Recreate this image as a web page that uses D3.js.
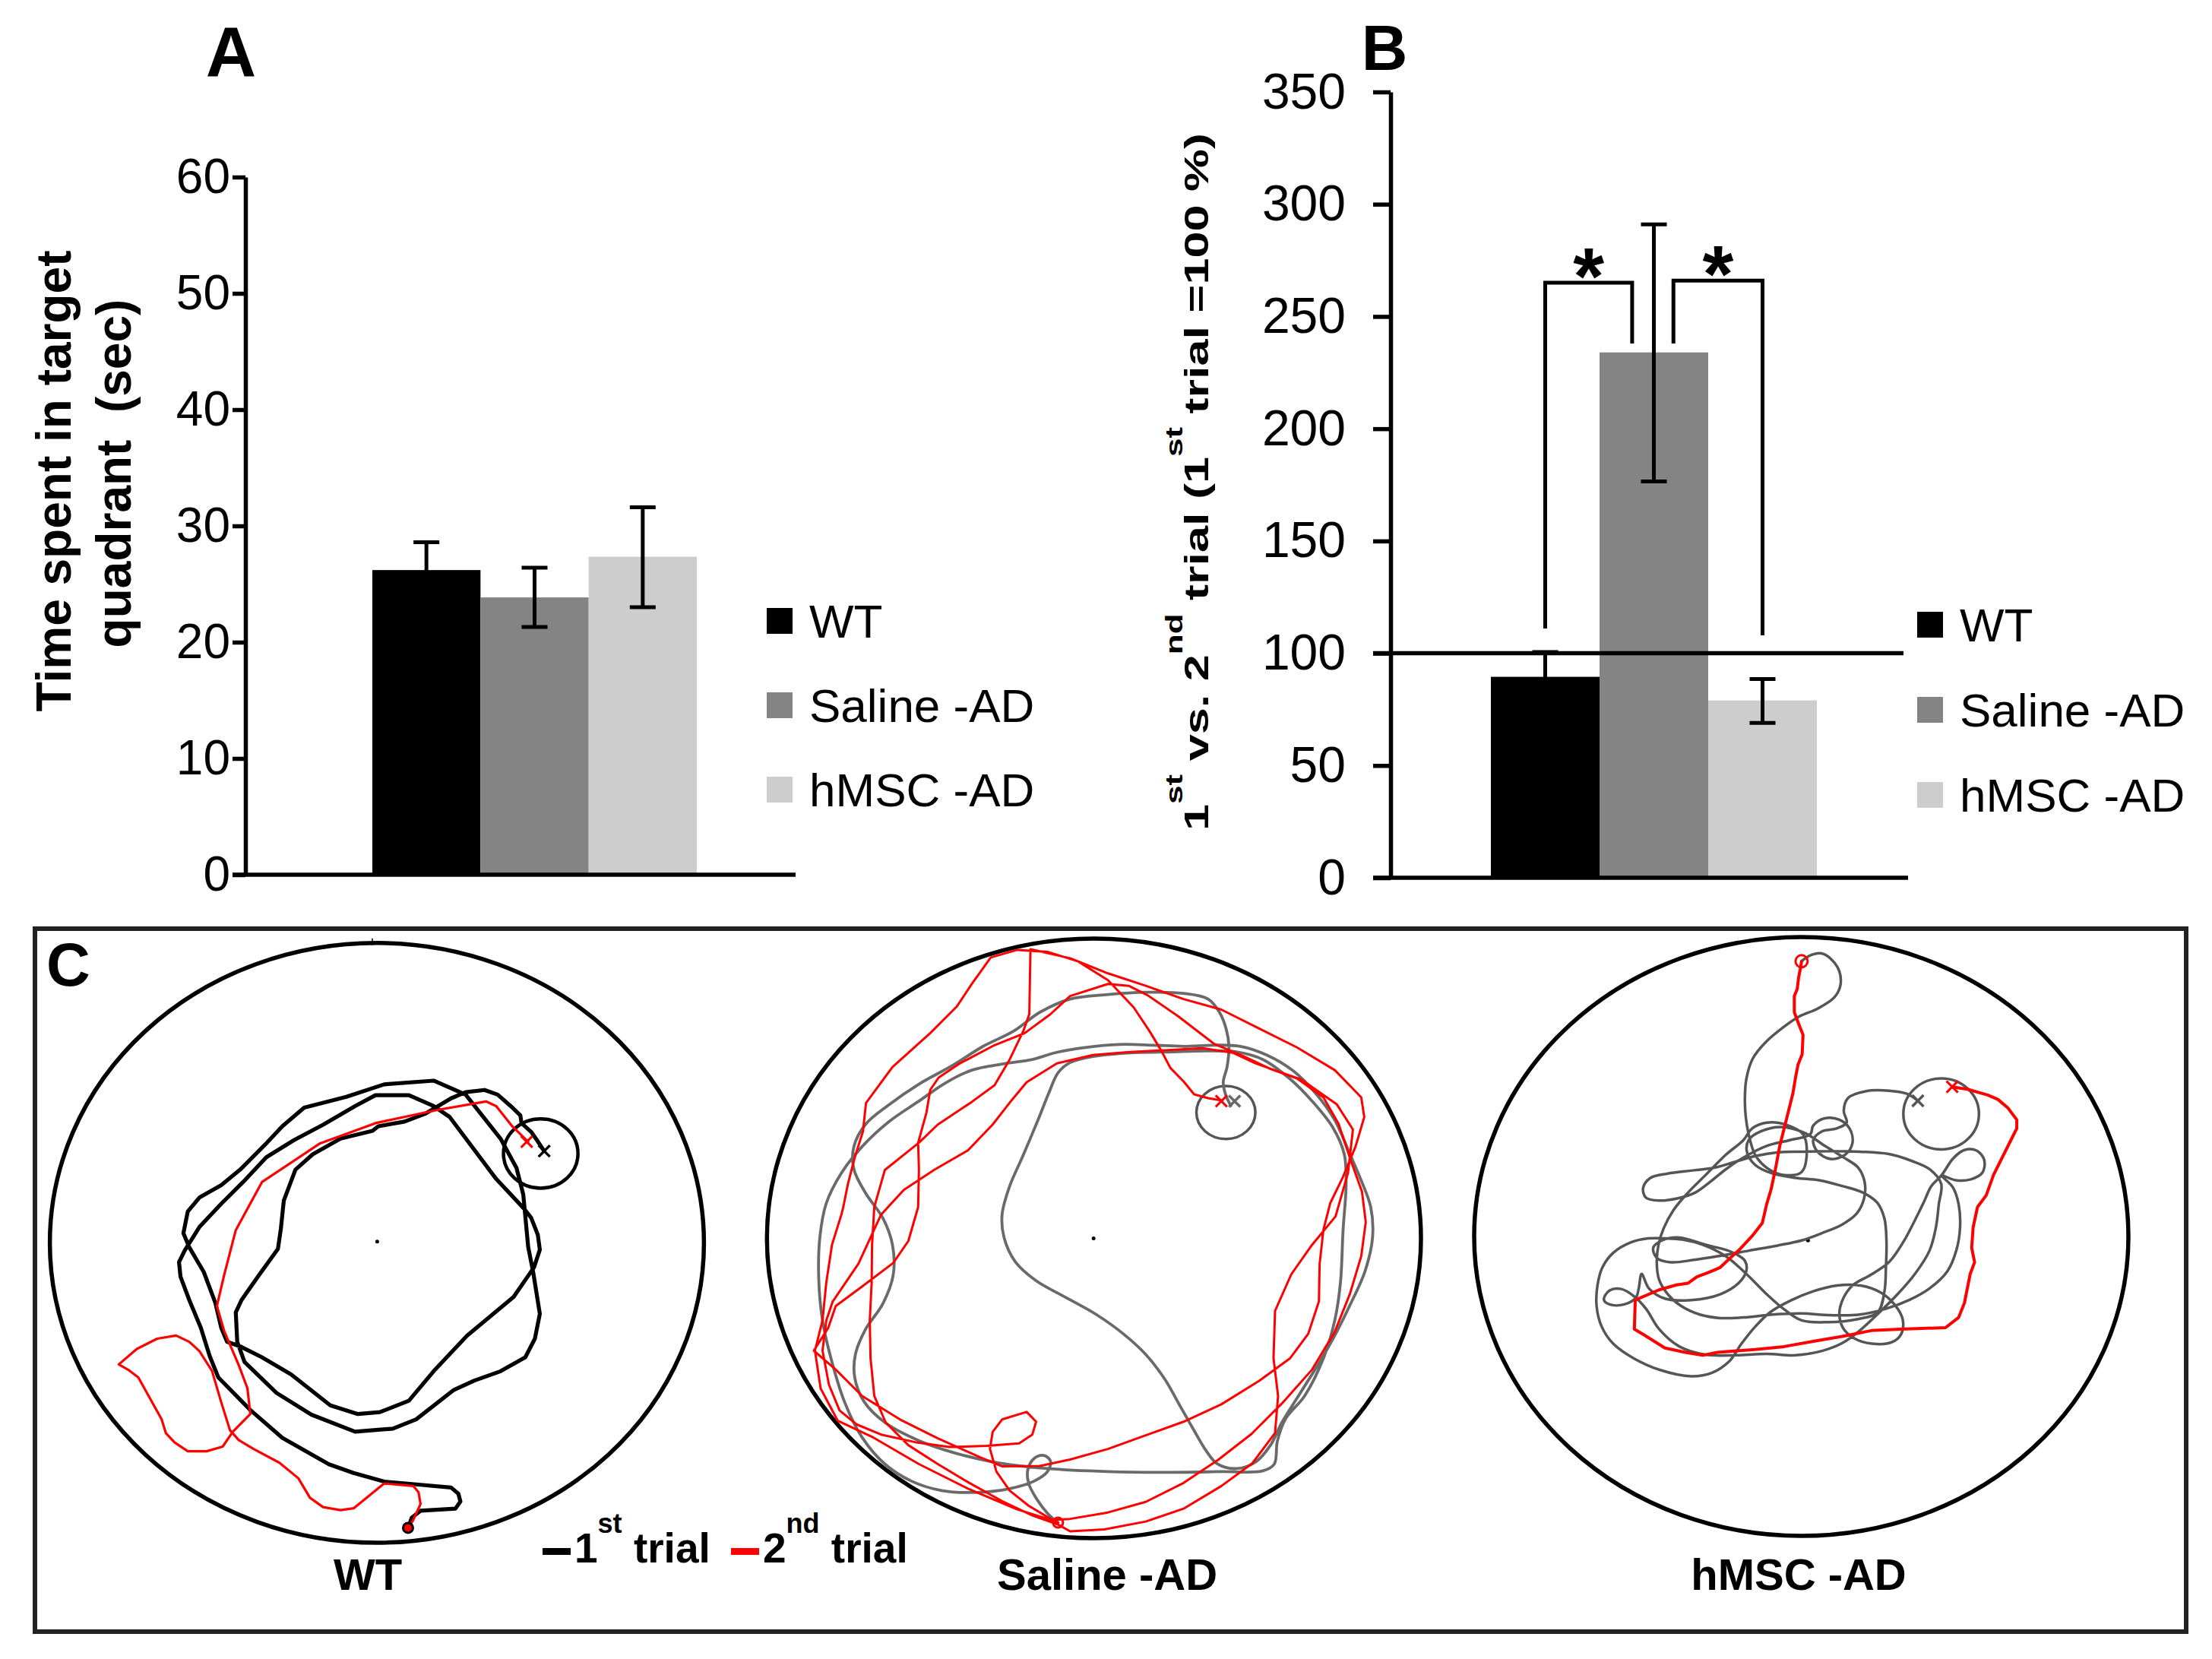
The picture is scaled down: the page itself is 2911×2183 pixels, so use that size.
<!DOCTYPE html>
<html><head><meta charset="utf-8">
<script src="https://cdn.jsdelivr.net/npm/d3@7"></script>
<style>
body{margin:0;background:#fff}
text{font-family:"Liberation Sans",Arial,Helvetica,sans-serif}
</style>
</head><body>
<svg id="c" width="2911" height="2183" xmlns="http://www.w3.org/2000/svg"></svg>
<script>
// ---------------- DATA ----------------
const groups = ["WT", "Saline -AD", "hMSC -AD"];
const groupColors = ["#000000", "#848484", "#cdcdcd"];

// Panel A: time spent in target quadrant (sec)
const timeMeans = [26.2, 23.85, 27.35];
const timeLower = [23.8, 21.3, 23.0];
const timeUpper = [28.6, 26.4, 31.6];
const timeTicks = [0, 10, 20, 30, 40, 50, 60];

// Panel B: 2nd trial relative to 1st trial (%)
const ratioMeans = [89.5, 234, 79];
const ratioLower = [78.5, 176.5, 69];
const ratioUpper = [100.5, 291, 88.5];
const ratioTicks = [0, 50, 100, 150, 200, 250, 300, 350];
const ratioReference = 100;
// significance brackets: [fromGroup, toGroup, fromOffset(band frac), toOffset, yFrom, yTop, yTo]
const sigBrackets = [[0, 1, 0, -0.2, 111, 265, 238], [1, 2, 0.18, 0, 238, 266, 108]];
const sigLabels = ["*", "*"];

// Panel C: swim tracks, in each arena's tracker coordinates
const arenaNames = ["WT", "Saline -AD", "hMSC -AD"];
const trackerX = [[-299, 1949], [-102, 1628], [-366, 1884]];
const trackerY = [[-341, 1593], [-10, 1576], [-18, 2041]];
const poolCenters = [[826, 622], [762, 783], [782, 1025]];
const platforms = [[1388, 338, 128, 112], [1112, 450, 78, 70], [1240, 590, 130, 122]];
const trialStarts = [[932, 1545], [668, 1535], [760, 65]];
const trial1Ends = [[1400, 330], [1135, 420], [1160, 545]];
const trial2Ends = [[1340, 300], [1100, 420], [1278, 497]];

const wtTrial1 = [[932,1545],[945,1512],[975,1490],[1095,1483],[1112,1460],[1105,1435],[1080,1415],[960,1405],[850,1396],[745,1368],[660,1340],[500,1255],[390,1165],[280,1060],[250,990],[220,900],[180,810],[150,735],[145,688],[165,650],[215,575],[290,500],[365,430],[445,350],[540,295],[640,245],[750,185],[820,150],[935,150],[1020,185],[1075,220],[1235,420],[1330,515],[1355,545],[1378,600],[1385,648],[1365,705],[1295,800],[1135,925],[1020,1040],[935,1135],[835,1172],[760,1178],[665,1150],[530,1050],[430,995],[355,960],[310,945],[290,900],[270,820],[230,720],[180,640],[160,595],[175,525],[215,480],[290,440],[355,390],[440,310],[500,250],[575,190],[720,155],[850,115],[1020,103],[1130,148],[1250,290],[1305,385],[1328,470],[1345,640],[1362,720],[1385,855],[1368,935],[1335,995],[1250,1040],[1160,1070],[1090,1100],[960,1195],[880,1225],[750,1235],[600,1180],[480,1110],[370,1010],[345,945],[340,850],[360,810],[420,730],[485,645],[495,580],[505,490],[545,390],[605,340],[700,290],[810,265],[830,250],[920,235],[990,210],[1080,160],[1130,140],[1195,133],[1240,148],[1285,185],[1318,215],[1322,240],[1355,268],[1375,295],[1400,330]];
const wtTrial2 = [[932,1545],[950,1520],[975,1468],[968,1430],[950,1410],[850,1402],[745,1482],[700,1488],[640,1478],[595,1448],[555,1385],[490,1335],[400,1290],[350,1262],[320,1230],[290,1140],[258,1038],[215,975],[180,945],[135,925],[70,935],[0,968],[-62,1018],[-30,1035],[5,1060],[20,1085],[85,1195],[100,1240],[130,1270],[175,1298],[240,1298],[295,1283],[330,1235],[390,1178],[380,1095],[350,1020],[300,910],[275,830],[300,730],[340,585],[430,430],[630,305],[820,240],[1030,198],[1200,170],[1235,185],[1290,250],[1345,300]];

const salTrial1 = [[668,1535],[640,1510],[610,1470],[590,1430],[588,1395],[605,1365],[630,1357],[648,1372],[640,1400],[605,1425],[540,1445],[450,1455],[360,1450],[280,1425],[210,1380],[150,1310],[105,1220],[70,1110],[45,1000],[35,890],[38,780],[55,690],[95,610],[150,540],[220,475],[300,420],[370,372],[440,338],[520,322],[600,310],[660,292],[740,278],[830,270],[920,272],[1000,275],[1080,272],[1150,275],[1220,298],[1290,340],[1350,400],[1400,470],[1440,560],[1470,630],[1495,700],[1500,780],[1480,870],[1440,960],[1400,1040],[1360,1110],[1310,1190],[1260,1270],[1230,1330],[1190,1375],[1140,1392],[1090,1380],[1060,1345],[1030,1295],[990,1225],[950,1155],[900,1090],[840,1035],[770,985],[690,940],[610,895],[555,845],[525,780],[520,720],[540,645],[575,565],[615,470],[645,395],[668,345],[700,318],[760,302],[860,292],[960,290],[1060,287],[1140,290],[1210,310],[1280,360],[1340,420],[1395,490],[1425,560],[1430,640],[1422,760],[1415,900],[1400,1000],[1370,1100],[1320,1200],[1270,1260],[1248,1320],[1240,1380],[1210,1398],[1100,1400],[950,1402],[800,1400],[640,1392],[500,1375],[400,1352],[300,1318],[210,1270],[155,1215],[130,1150],[132,1090],[158,1025],[205,955],[232,880],[230,800],[205,730],[160,665],[128,600],[128,540],[160,480],[220,430],[300,375],[390,325],[470,275],[550,235],[620,185],[700,150],[800,138],[900,132],[1000,135],[1065,150],[1095,185],[1113,230],[1120,275],[1115,330],[1105,370],[1112,405],[1125,432]];
const salTrial2 = [[668,1535],[640,1520],[590,1490],[540,1450],[505,1400],[488,1340],[495,1295],[520,1262],[585,1242],[610,1268],[600,1302],[565,1325],[480,1332],[380,1335],[290,1322],[200,1302],[135,1275],[90,1238],[62,1170],[45,1080],[55,1000],[72,950],[140,850],[200,720],[260,655],[340,602],[430,550],[495,482],[545,418],[585,370],[665,320],[760,298],[860,290],[960,285],[1050,280],[1130,292],[1190,320],[1260,345],[1310,362],[1405,428],[1448,495],[1435,610],[1402,725],[1340,800],[1285,878],[1242,975],[1238,1100],[1250,1200],[1242,1298],[1182,1378],[1100,1438],[1000,1498],[900,1532],[790,1553],[700,1558],[668,1540],[600,1516],[520,1478],[430,1428],[350,1380],[272,1330],[212,1270],[182,1200],[172,1100],[170,1000],[175,900],[176,800],[182,700],[210,602],[300,530],[350,482],[440,422],[500,378],[540,310],[576,235],[592,190],[595,18],[700,42],[800,82],[900,115],[1000,150],[1100,178],[1200,228],[1300,278],[1400,338],[1470,410],[1478,462],[1455,540],[1422,620],[1388,690],[1370,760],[1360,850],[1358,950],[1330,1035],[1282,1100],[1200,1160],[1100,1222],[1000,1268],[900,1304],[800,1340],[700,1368],[620,1385],[520,1386],[462,1362],[350,1312],[250,1262],[150,1200],[80,1130],[22,1080],[60,1020],[80,962],[150,910],[232,848],[272,790],[298,700],[300,600],[298,530],[320,450],[330,390],[352,358],[405,322],[500,272],[580,240],[648,190],[700,142],[800,110],[855,115],[905,140],[985,195],[1080,268],[1160,302],[1230,335],[1300,360],[1370,410],[1410,480],[1440,570],[1472,660],[1482,740],[1470,830],[1440,930],[1400,1030],[1340,1130],[1260,1220],[1180,1300],[1090,1370],[1000,1430],[900,1480],[800,1508],[700,1525],[650,1528],[560,1500],[430,1445],[300,1380],[180,1310],[85,1265],[40,1180],[25,1080],[45,1000],[55,900],[70,800],[95,720],[100,700],[112,640],[130,570],[152,500],[160,425],[230,330],[330,240],[400,170],[440,110],[490,40],[560,20],[640,25],[720,50],[800,100],[868,172],[910,235],[942,288],[965,332],[1000,368],[1028,402],[1065,412],[1100,418]];

const hmscTrial1 = [[760,65],[790,45],[828,38],[862,58],[890,100],[893,150],[872,190],[815,228],[752,255],[700,290],[635,345],[592,400],[570,470],[565,540],[568,600],[578,660],[600,730],[640,775],[700,800],[760,790],[778,720],[765,660],[715,630],[640,620],[590,640],[560,680],[500,730],[430,800],[370,860],[320,920],[285,985],[268,1040],[262,1100],[270,1160],[300,1210],[345,1250],[410,1280],[480,1292],[560,1290],[660,1280],[760,1276],[860,1282],[960,1280],[1050,1260],[1130,1230],[1200,1190],[1262,1130],[1292,1060],[1305,980],[1300,900],[1280,842],[1242,802],[1290,818],[1342,815],[1382,792],[1388,748],[1362,716],[1320,714],[1282,742],[1242,800],[1205,840],[1182,890],[1150,955],[1110,1030],[1062,1098],[1000,1142],[935,1180],[903,1225],[890,1275],[902,1325],[942,1362],[1002,1380],[1070,1375],[1102,1348],[1108,1298],[1082,1248],[1032,1204],[962,1180],[882,1180],[800,1200],[722,1232],[652,1272],[600,1322],[552,1382],[512,1440],[452,1480],[380,1492],[272,1470],[182,1430],[112,1380],[72,1320],[55,1250],[58,1180],[75,1118],[112,1068],[172,1032],[232,1018],[290,1018],[350,1022],[420,1040],[500,1080],[570,1140],[640,1210],[700,1262],[760,1300],[850,1306],[950,1296],[1022,1272],[1045,1200],[1050,1120],[1052,1030],[1045,950],[1020,895],[970,860],[900,838],[820,818],[740,810],[660,795],[600,765],[572,720],[578,680],[620,650],[690,635],[770,655],[840,700],[905,740],[955,775],[977,825],[975,880],[950,932],[900,970],[830,1000],[760,1025],[680,1042],[580,1060],[480,1078],[390,1092],[310,1100],[262,1085],[250,1050],[280,1025],[340,1015],[430,1040],[520,1065],[565,1095],[570,1130],[545,1170],[480,1210],[380,1230],[290,1225],[235,1190],[210,1140],[200,1190],[190,1222],[150,1245],[100,1245],[80,1228],[100,1197],[140,1192],[185,1218],[225,1260],[270,1330],[340,1390],[430,1418],[530,1420],[640,1415],[740,1420],[830,1405],[900,1378],[960,1335],[1020,1280],[1090,1210],[1150,1140],[1200,1060],[1222,980],[1232,900],[1240,830],[1200,780],[1140,752],[1060,728],[960,720],[860,718],[760,720],[680,722],[600,735],[530,755],[460,775],[380,785],[300,795],[240,810],[215,845],[225,878],[270,888],[335,880],[395,860],[450,820],[500,780],[560,740],[640,700],[720,680],[790,660],[800,630],[840,605],[890,610],[925,640],[935,690],[910,730],[860,745],[815,720],[800,680],[830,650],[880,640],[915,620],[905,580],[920,535],[980,512],[1060,510],[1120,520],[1160,545]];
const hmscTrial2 = [[760,65],[757,85],[750,120],[745,160],[735,185],[735,240],[748,275],[765,318],[762,385],[748,420],[740,460],[730,520],[715,580],[700,640],[685,700],[670,780],[655,850],[640,900],[625,965],[590,1010],[545,1058],[510,1090],[480,1118],[440,1135],[400,1150],[370,1172],[330,1178],[270,1195],[188,1230],[185,1330],[215,1348],[290,1395],[360,1410],[420,1420],[470,1410],[600,1400],[700,1390],[800,1372],[900,1355],[1000,1335],[1100,1330],[1255,1325],[1300,1290],[1320,1240],[1340,1140],[1355,1100],[1345,1050],[1350,980],[1365,910],[1395,870],[1420,800],[1460,720],[1500,640],[1500,610],[1470,570],[1435,540],[1400,525],[1330,505],[1278,497]];

const trials1 = [wtTrial1, salTrial1, hmscTrial1];
const trials2 = [wtTrial2, salTrial2, hmscTrial2];

// ---------------- DRAWING ----------------
const svg = d3.select("#c");
svg.append("rect").attr("width", 2911).attr("height", 2183).attr("fill", "#fff");
const FONT = '"Liberation Sans", Arial, Helvetica, sans-serif';
const AXW = 5.5;

function styleAxis(g, fs) {
  g.attr("font-family", FONT).attr("font-size", fs);
  g.selectAll("path.domain").attr("stroke", "#000").attr("stroke-width", AXW);
  g.selectAll(".tick line").attr("stroke", "#000").attr("stroke-width", AXW);
  g.selectAll(".tick text").attr("fill", "#000");
}

function barPanel(cfg) {
  const g = svg.append("g");
  const x = d3.scaleBand().domain(groups).range(cfg.xRange).paddingInner(0);
  const y = d3.scaleLinear().domain(cfg.domain).range(cfg.yRange);
  const bw = x.bandwidth();
  g.selectAll("rect.bar").data(groups).join("rect").attr("class", "bar")
    .attr("x", d => x(d)).attr("width", bw)
    .attr("y", (d, i) => y(cfg.means[i]))
    .attr("height", (d, i) => y(0) - y(cfg.means[i]))
    .attr("fill", (d, i) => groupColors[i]);
  groups.forEach((gname, i) => {
    const cx = x(gname) + bw / 2;
    g.append("line").attr("x1", cx).attr("x2", cx)
      .attr("y1", y(cfg.lower[i])).attr("y2", y(cfg.upper[i]))
      .attr("stroke", "#000").attr("stroke-width", 5);
    [cfg.lower[i], cfg.upper[i]].forEach(v => {
      g.append("line").attr("x1", cx - 17).attr("x2", cx + 17)
        .attr("y1", y(v)).attr("y2", y(v))
        .attr("stroke", "#000").attr("stroke-width", 5);
    });
  });
  const ax = d3.axisLeft(y).tickValues(cfg.ticks).tickSize(cfg.tickSize)
    .tickSizeOuter(0).tickPadding(cfg.tickPad);
  const ag = g.append("g").attr("transform", `translate(${cfg.axisX},0)`).call(ax);
  styleAxis(ag, cfg.tickFont);
  g.append("line").attr("x1", cfg.axisX - cfg.tickSize).attr("x2", cfg.xAxisEnd)
    .attr("y1", y(0)).attr("y2", y(0)).attr("stroke", "#000").attr("stroke-width", AXW);
  groups.forEach((gname, i) => {
    const cy = cfg.legendY + i * cfg.legendStep;
    g.append("rect").attr("x", cfg.legendX).attr("y", cy - 17).attr("width", 34).attr("height", 34)
      .attr("fill", groupColors[i]);
    g.append("text").attr("x", cfg.legendX + 56).attr("y", cy).attr("dy", "0.36em")
      .attr("font-size", 62).attr("fill", "#000").text(gname);
  });
  return {g, x, y};
}

// Panel A
const pA = barPanel({xRange: [490, 917], domain: [0, 60], yRange: [1151, 233],
  means: timeMeans, lower: timeLower, upper: timeUpper, ticks: timeTicks,
  tickSize: 17, tickPad: 3, tickFont: 64, axisX: 323, xAxisEnd: 1047,
  legendX: 1009, legendY: 817, legendStep: 111});
svg.append("text").attr("x", 304).attr("y", 100).attr("text-anchor", "middle")
  .attr("font-size", 92).attr("font-weight", "bold").text("A");
svg.append("text").attr("transform", "translate(93,633) rotate(-90)")
  .attr("text-anchor", "middle").attr("font-size", 64).attr("font-weight", "bold")
  .style("white-space", "pre").text("Time spent in target");
svg.append("text").attr("transform", "translate(172,623) rotate(-90)")
  .attr("text-anchor", "middle").attr("font-size", 64).attr("font-weight", "bold")
  .style("white-space", "pre").text("quadrant  (sec)");

// Panel B
const pB = barPanel({xRange: [1962, 2391], domain: [0, 350], yRange: [1155, 121],
  means: ratioMeans, lower: ratioLower, upper: ratioUpper, ticks: ratioTicks,
  tickSize: 23, tickPad: 36, tickFont: 66, axisX: 1830, xAxisEnd: 2511,
  legendX: 2523, legendY: 822, legendStep: 112});
pB.g.append("line").attr("x1", 1807).attr("x2", 2505)
  .attr("y1", pB.y(ratioReference)).attr("y2", pB.y(ratioReference))
  .attr("stroke", "#000").attr("stroke-width", AXW);
sigBrackets.forEach((b, i) => {
  const bw = pB.x.bandwidth();
  const x1 = pB.x(groups[b[0]]) + bw / 2 + b[2] * bw;
  const x2 = pB.x(groups[b[1]]) + bw / 2 + b[3] * bw;
  pB.g.append("path")
    .attr("d", `M${x1},${pB.y(b[4])}V${pB.y(b[5])}H${x2}V${pB.y(b[6])}`)
    .attr("fill", "none").attr("stroke", "#000").attr("stroke-width", 5);
  pB.g.append("text").attr("x", (x1 + x2) / 2).attr("y", pB.y(b[5]) + 28)
    .attr("text-anchor", "middle").attr("font-size", 105).attr("font-weight", "bold")
    .text(sigLabels[i]);
});
svg.append("text").attr("x", 1822).attr("y", 92).attr("text-anchor", "middle")
  .attr("font-size", 84).attr("font-weight", "bold").text("B");
{
  const t = svg.append("text").attr("transform", "translate(1590,634) rotate(-90) scale(1,0.7)")
    .attr("text-anchor", "middle").attr("font-size", 63).attr("font-weight", "bold")
    .style("white-space", "pre");
  const parts = [["1", 0], ["st", 1], [" vs. 2", 0], ["nd", 1], [" trial (1", 0], ["st", 1], [" trial =100 %)", 0]];
  let up = false;
  parts.forEach(([s, sup]) => {
    const ts = t.append("tspan").text(s);
    if (sup) { ts.attr("font-size", 44).attr("dy", up ? 0 : -48); up = true; }
    else { ts.attr("dy", up ? 48 : 0); up = false; }
  });
}

// Panel C
svg.append("rect").attr("x", 46).attr("y", 1222).attr("width", 2831).attr("height", 925)
  .attr("fill", "none").attr("stroke", "#222").attr("stroke-width", 6);
svg.append("text").attr("x", 61).attr("y", 1297).attr("font-size", 80)
  .attr("font-weight", "bold").text("C");

const arenaBox = [
  {x: [65.6, 926.4], y: [1240.8, 2030], labelX: 484},
  {x: [1009.3, 1870], y: [1235, 2024], labelX: 1457},
  {x: [1940, 2801], y: [1233.1, 2021], labelX: 2367}
];
const trial1Colors = ["#000000", "#6a6a6a", "#555555"];
const trial1Widths = [5.2, 3.8, 3.5];
const trial2Widths = [3.2, 3, 4];

function drawCross(g, px, py, col, w) {
  const s = 7.5;
  g.append("path").attr("d", `M${px - s},${py - s}L${px + s},${py + s}M${px - s},${py + s}L${px + s},${py - s}`)
    .attr("stroke", col).attr("stroke-width", w).attr("fill", "none");
}

arenaNames.forEach((name, i) => {
  const box = arenaBox[i];
  const xs = d3.scaleLinear().domain(trackerX[i]).range(box.x);
  const ys = d3.scaleLinear().domain(trackerY[i]).range(box.y);
  const g = svg.append("g");
  const cx = (xs(trackerX[i][0]) + xs(trackerX[i][1])) / 2;
  const cy = (ys(trackerY[i][0]) + ys(trackerY[i][1])) / 2;
  g.append("ellipse").attr("cx", cx).attr("cy", cy)
    .attr("rx", (box.x[1] - box.x[0]) / 2).attr("ry", (box.y[1] - box.y[0]) / 2)
    .attr("fill", "none").attr("stroke", "#000").attr("stroke-width", 5.5);
  if (i === 0) {
    g.append("line").attr("x1", cx - 6).attr("x2", cx - 6).attr("y1", box.y[0] - 6).attr("y2", box.y[0] + 3)
      .attr("stroke", "#000").attr("stroke-width", 1.5);
  }
  g.append("circle").attr("cx", xs(poolCenters[i][0])).attr("cy", ys(poolCenters[i][1]))
    .attr("r", 2.5).attr("fill", "#000");
  const p = platforms[i];
  g.append("ellipse").attr("cx", xs(p[0])).attr("cy", ys(p[1]))
    .attr("rx", xs(p[0] + p[2]) - xs(p[0])).attr("ry", ys(p[1] + p[3]) - ys(p[1]))
    .attr("fill", "none").attr("stroke", i === 0 ? "#000" : "#555").attr("stroke-width", i === 0 ? 4.5 : 3.5);

  const lineLin = d3.line().x(d => xs(d[0])).y(d => ys(d[1]));
  const lineSmooth = d3.line().x(d => xs(d[0])).y(d => ys(d[1])).curve(d3.curveCatmullRom.alpha(0.5));
  g.append("path").attr("d", (i === 0 ? lineLin : lineSmooth)(trials1[i]))
    .attr("fill", "none").attr("stroke", trial1Colors[i]).attr("stroke-width", trial1Widths[i])
    .attr("stroke-linejoin", "round").attr("stroke-linecap", "round");
  g.append("path").attr("d", lineLin(trials2[i]))
    .attr("fill", "none").attr("stroke", "#ff0000").attr("stroke-width", trial2Widths[i])
    .attr("stroke-linejoin", "round").attr("stroke-linecap", "round");

  drawCross(g, xs(trial1Ends[i][0]), ys(trial1Ends[i][1]), trial1Colors[i], 3.5);
  drawCross(g, xs(trial2Ends[i][0]), ys(trial2Ends[i][1]), "#ff0000", 3);
  const s = trialStarts[i];
  g.append("circle").attr("cx", xs(s[0])).attr("cy", ys(s[1])).attr("r", i === 2 ? 8 : 6.5)
    .attr("fill", i === 0 ? "#ff0000" : "none")
    .attr("stroke", i === 0 ? "#000" : "#ff0000").attr("stroke-width", 3);

  g.append("text").attr("x", box.labelX).attr("y", 2092).attr("text-anchor", "middle")
    .attr("font-size", 58).attr("font-weight", "bold").text(name);
});

function trialLegend(x0, color, num, sup) {
  svg.append("rect").attr("x", x0).attr("y", 2037).attr("width", 37).attr("height", 9).attr("fill", color);
  const t = svg.append("text").attr("x", x0 + 42).attr("y", 2056).attr("font-size", 55)
    .attr("font-weight", "bold").style("white-space", "pre");
  t.append("tspan").text(num);
  t.append("tspan").attr("font-size", 36).attr("dy", -39).text(sup);
  t.append("tspan").attr("dy", 39).text(" trial");
}
trialLegend(714, "#000", "1", "st");
trialLegend(962, "#ff0000", "2", "nd");
</script>
</body></html>
